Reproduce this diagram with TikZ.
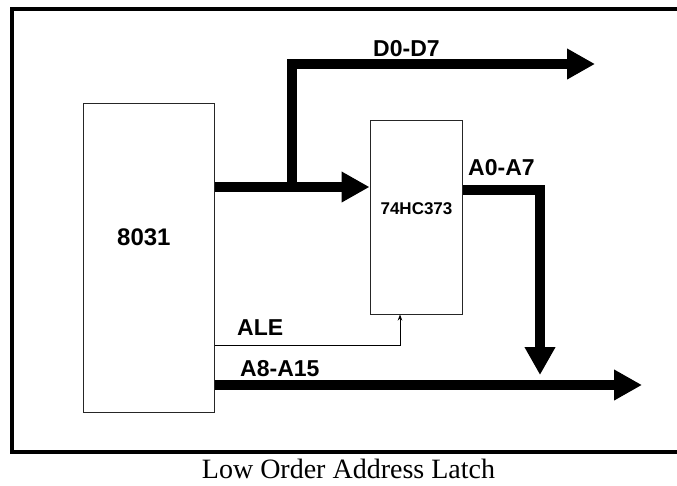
\documentclass[tikz,border=0pt]{standalone}
\usepackage{fontspec}
\setmainfont{Liberation Sans}
\newfontfamily\capfont{Liberation Serif}
\usetikzlibrary{arrows.meta}
\begin{document}
\begin{tikzpicture}[x=1pt,y=-1pt,
  chip/.style={draw=black!85, line width=1pt, inner sep=0pt},
  bus/.style={line width=10pt, -{Triangle[length=28pt 0, width=29pt 0]}},
  ctl/.style={line width=0.8pt, -{Stealth[length=6pt 0, width=4.5pt 0]}},
  lbl/.style={font=\bfseries\fontsize{23}{23}\selectfont, anchor=base west, inner sep=0pt}]
\useasboundingbox (0,0) rectangle (677,485);
\begin{scope}
  \clip (0,0) rectangle (677,485);
  \draw[line width=3.5pt] (12,9) rectangle (700,452);
\end{scope}
% chips
\node[chip, minimum width=131pt, minimum height=309pt] (cpu) at (148.5,257.5) {};
\node[lbl, font=\bfseries\fontsize{24}{24}\selectfont] (cpul) at (117,245) {8031};
\node[chip, minimum width=92pt, minimum height=194pt] (latch) at (416,217) {};
\node[lbl, anchor=base, font=\bfseries\fontsize{17}{17}\selectfont] (latchl) at (416.5,214) {74HC373};
% coordinates
\coordinate (d0) at (214,187);
\coordinate (br) at (292,187);
\coordinate (dout) at (595,64);
\coordinate (a0s) at (462,190);
\coordinate (aout) at (540,375);
\coordinate (a8) at (642,385);
\coordinate (ale) at (400,345);
% buses
\draw[bus] (br) |- (dout);
\draw[bus] (cpu.east |- d0) -- (latch.west |- d0);
\draw[bus] (latch.east |- a0s) -| (aout);
\draw[bus] (cpu.east |- a8) -- (a8);
\draw[ctl] (cpu.east |- ale) -- (ale) -- (ale |- latch.south);
% labels
\node[lbl] (ld) at (373,56) {D0-D7};
\node[lbl] (la) at (468,175) {A0-A7};
\node[lbl] (lale) at (237,335) {ALE};
\node[lbl] (la8) at (240,376) {A8-A15};
\node[font=\capfont\fontsize{28}{28}\selectfont, anchor=base, inner sep=0pt] (cap) at (348.5,478) {Low Order Address Latch};
\end{tikzpicture}
\end{document}
